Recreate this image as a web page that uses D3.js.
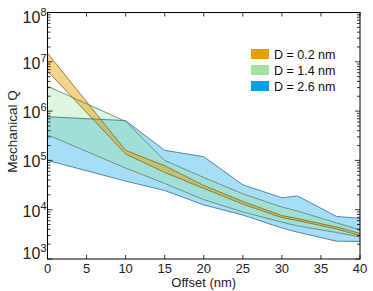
<!DOCTYPE html>
<html>
<head>
<meta charset="utf-8">
<script src="https://cdn.jsdelivr.net/npm/d3@7"></script>
<style>
  html, body { margin: 0; padding: 0; background: #fff; }
  svg { display: block; font-family: "Liberation Sans", Arial, sans-serif; }
</style>
</head>
<body>
<svg id="chart" width="373" height="291"></svg>
<script>
// offsets (nm) where the bands are sampled
const offsets = [0, 10, 15, 20, 25, 30, 32, 37, 40];

// D = 0.2 nm
const lowD02 = [6.5e6, 1.35e5, 5.7e4, 2.7e4, 1.3e4, 6.9e3, 6.05e3, 4.06e3, 2.96e3];
const highD02 = [1.5e7, 1.6e5, 7.8e4, 3.1e4, 1.47e4, 7.6e3, 6.6e3, 4.45e3, 3.3e3];

// D = 1.4 nm
const lowD14 = [3.3e5, 7.0e4, 3.4e4, 1.6e4, 9.0e3, 5.6e3, 4.7e3, 3.45e3, 2.8e3];
const highD14 = [3.2e6, 6.2e5, 1.0e5, 4.5e4, 2.1e4, 1.13e4, 9.4e3, 5.4e3, 3.9e3];

// D = 2.6 nm
const lowD26 = [1.0e5, 3.8e4, 2.45e4, 1.25e4, 7.8e3, 4.25e3, 3.5e3, 2.3e3, 2.27e3];
const highD26 = [7.7e5, 6.4e5, 1.6e5, 1.19e5, 3.2e4, 1.75e4, 1.9e4, 7.3e3, 6.7e3];

const legendLabels = ['D = 0.2 nm', 'D = 1.4 nm', 'D = 2.6 nm'];
const xTicks = [0, 5, 10, 15, 20, 25, 30, 35, 40];
const yExponents = [3, 4, 5, 6, 7, 8];

const margin = { top: 12.5, right: 13, bottom: 32, left: 47.5 };
const width = 373 - margin.left - margin.right;
const height = 291 - margin.top - margin.bottom;

const svg = d3.select('#chart');
const g = svg.append('g')
  .attr('transform', `translate(${margin.left},${margin.top})`);

const x = d3.scaleLinear().domain([0, 40]).range([0, width]);
const y = d3.scaleLog().domain([1e3, 1e8]).range([height, 0]);

const bands = [
  { low: lowD26, high: highD26, fill: '#00A0E9', edge: '#34698a', opacity: 0.35 },
  { low: lowD14, high: highD14, fill: '#90E090', edge: '#5a7c6a', opacity: 0.3 },
  { low: lowD02, high: highD02, fill: '#E69F00', edge: '#86661a', opacity: 0.45 },
];

const area = (b) => d3.area()
  .x((d, i) => x(offsets[i]))
  .y0((d, i) => y(b.low[i]))
  .y1((d, i) => y(b.high[i]));

const line = (vals) => d3.line()
  .x((d, i) => x(offsets[i]))
  .y((d) => y(d))(vals);

const plot = g.append('g');
plot.append('clipPath').attr('id', 'clip')
  .append('rect').attr('width', width).attr('height', height);
plot.attr('clip-path', 'url(#clip)');

bands.forEach((b) => {
  plot.append('path')
    .attr('d', area(b)(offsets))
    .attr('fill', b.fill)
    .attr('fill-opacity', b.opacity)
    .attr('stroke', 'none');
});
bands.forEach((b) => {
  [b.low, b.high].forEach((vals) => {
    plot.append('path')
      .attr('d', line(vals))
      .attr('fill', 'none')
      .attr('stroke', b.edge)
      .attr('stroke-width', 0.8);
  });
});

// frame
g.append('rect')
  .attr('width', width).attr('height', height)
  .attr('fill', 'none').attr('stroke', '#000').attr('stroke-width', 1);

// x ticks (inward, top and bottom)
const ticks = g.append('g').attr('stroke', '#000').attr('stroke-width', 0.8);
xTicks.forEach((t) => {
  ticks.append('line').attr('x1', x(t)).attr('x2', x(t)).attr('y1', height).attr('y2', height - 4);
  ticks.append('line').attr('x1', x(t)).attr('x2', x(t)).attr('y1', 0).attr('y2', 4);
});

// y ticks: decades plus minor ticks
yExponents.forEach((e) => {
  const yy = y(Math.pow(10, e));
  ticks.append('line').attr('x1', 0).attr('x2', 5).attr('y1', yy).attr('y2', yy);
  ticks.append('line').attr('x1', width).attr('x2', width - 5).attr('y1', yy).attr('y2', yy);
  if (e < 8) {
    for (let k = 2; k <= 9; k++) {
      const ym = y(k * Math.pow(10, e));
      ticks.append('line').attr('x1', 0).attr('x2', 3).attr('y1', ym).attr('y2', ym);
      ticks.append('line').attr('x1', width).attr('x2', width - 3).attr('y1', ym).attr('y2', ym);
    }
  }
});

// x tick labels
g.append('g').selectAll('text')
  .data(xTicks)
  .enter()
  .append('text')
  .attr('x', (d) => x(d))
  .attr('y', height + 14)
  .attr('text-anchor', 'middle')
  .attr('font-size', 13)
  .attr('fill', '#222')
  .text((d) => d);

// y tick labels as 10^n
const yl = g.append('g').selectAll('text')
  .data(yExponents)
  .enter()
  .append('text')
  .attr('x', -1)
  .attr('y', (d) => Math.min(height, Math.max(10, y(Math.pow(10, d)) + 7)))
  .attr('text-anchor', 'end')
  .attr('fill', '#222');
yl.append('tspan').attr('font-size', 16).text('10');
yl.append('tspan').attr('font-size', 11).attr('dy', -7).text((d) => d);

// axis titles
svg.append('text')
  .attr('x', margin.left + width / 2)
  .attr('y', 287)
  .attr('text-anchor', 'middle')
  .attr('font-size', 13)
  .attr('fill', '#222')
  .text('Offset (nm)');

svg.append('text')
  .attr('transform', 'translate(17,131.5) rotate(-90)')
  .attr('text-anchor', 'middle')
  .attr('font-size', 13.5)
  .attr('fill', '#222')
  .text('Mechanical Q');

// legend
const legendColors = ['#E69F00', '#A0E3A0', '#00A0E9'];
const legend = svg.append('g').attr('transform', 'translate(251,49)');
legendLabels.forEach((lab, i) => {
  legend.append('rect')
    .attr('x', 0).attr('y', i * 16)
    .attr('width', 18).attr('height', 10)
    .attr('fill', legendColors[i]);
  legend.append('text')
    .attr('x', 23).attr('y', i * 16 + 9.5)
    .attr('font-size', 12.5)
    .attr('fill', '#111')
    .text(lab);
});
</script>
</body>
</html>
